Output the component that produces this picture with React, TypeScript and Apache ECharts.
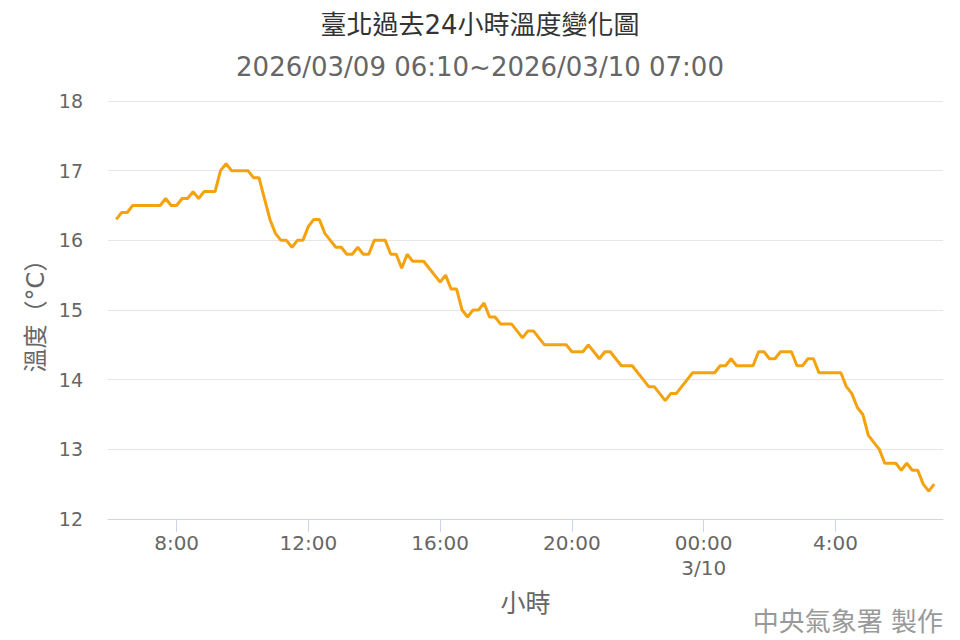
import React, { useEffect, useRef } from 'react';
import * as echarts from 'echarts';

// 10 分鐘一筆，從 2026/03/09 06:10 起（以第一天 00:00 起算的分鐘數）
const startMinute = 370;
const stepMinutes = 10;

const temperatures = [
  // 06:10 - 08:00
  16.3, 16.4, 16.4, 16.5, 16.5, 16.5, 16.5, 16.5, 16.5, 16.6, 16.5, 16.5,
  // 08:10 - 10:00
  16.6, 16.6, 16.7, 16.6, 16.7, 16.7, 16.7, 17.0, 17.1, 17.0, 17.0, 17.0,
  // 10:10 - 12:00
  17.0, 16.9, 16.9, 16.6, 16.3, 16.1, 16.0, 16.0, 15.9, 16.0, 16.0, 16.2,
  // 12:10 - 14:00
  16.3, 16.3, 16.1, 16.0, 15.9, 15.9, 15.8, 15.8, 15.9, 15.8, 15.8, 16.0,
  // 14:10 - 16:00
  16.0, 16.0, 15.8, 15.8, 15.6, 15.8, 15.7, 15.7, 15.7, 15.6, 15.5, 15.4,
  // 16:10 - 18:00
  15.5, 15.3, 15.3, 15.0, 14.9, 15.0, 15.0, 15.1, 14.9, 14.9, 14.8, 14.8,
  // 18:10 - 20:00
  14.8, 14.7, 14.6, 14.7, 14.7, 14.6, 14.5, 14.5, 14.5, 14.5, 14.5, 14.4,
  // 20:10 - 22:00
  14.4, 14.4, 14.5, 14.4, 14.3, 14.4, 14.4, 14.3, 14.2, 14.2, 14.2, 14.1,
  // 22:10 - 00:00
  14.0, 13.9, 13.9, 13.8, 13.7, 13.8, 13.8, 13.9, 14.0, 14.1, 14.1, 14.1,
  // 00:10 - 02:00
  14.1, 14.1, 14.2, 14.2, 14.3, 14.2, 14.2, 14.2, 14.2, 14.4, 14.4, 14.3,
  // 02:10 - 04:00
  14.3, 14.4, 14.4, 14.4, 14.2, 14.2, 14.3, 14.3, 14.1, 14.1, 14.1, 14.1,
  // 04:10 - 06:00
  14.1, 13.9, 13.8, 13.6, 13.5, 13.2, 13.1, 13.0, 12.8, 12.8, 12.8, 12.7,
  // 06:10 - 07:00
  12.8, 12.7, 12.7, 12.5, 12.4, 12.5,
];

const xTickValues = [480, 720, 960, 1200, 1440, 1680];
const xTickLabels = ['8:00', '12:00', '16:00', '20:00', '00:00\n3/10', '4:00'];

const titleText = '臺北過去24小時溫度變化圖';
const subtitleText = '2026/03/09 06:10~2026/03/10 07:00';
const creditText = '中央氣象署 製作';

const FONT = "'DejaVu Sans', 'Noto Sans CJK TC', sans-serif";

export default function App() {
  const chartRef = useRef<HTMLDivElement>(null);

  useEffect(() => {
    if (!chartRef.current) return;
    document.body.style.margin = '0';
    const chart = echarts.init(chartRef.current, null, { renderer: 'svg' });

    const seriesData = temperatures.map((v, i) => [startMinute + i * stepMinutes, v]);

    const option: echarts.EChartsOption = {
      animation: false,
      backgroundColor: '#ffffff',
      textStyle: { fontFamily: FONT },
      title: [
        {
          text: titleText,
          left: 'center',
          top: 7,
          textStyle: { fontFamily: FONT, fontSize: 26, fontWeight: 'normal', color: '#333333' },
        },
        {
          text: subtitleText,
          left: 'center',
          top: 49,
          textStyle: { fontFamily: FONT, fontSize: 26, fontWeight: 'normal', color: '#666666' },
        },
      ],
      grid: { left: 108, right: 17, top: 101, bottom: 121 },
      xAxis: {
        type: 'value',
        min: 355,
        max: 1876,
        name: '小時',
        nameLocation: 'middle',
        nameGap: 72,
        nameTextStyle: { fontFamily: FONT, fontSize: 25, color: '#666666' },
        axisLine: { show: true, lineStyle: { color: '#ccd6eb', width: 1 } },
        axisTick: {
          show: true,
          length: 13,
          customValues: xTickValues,
          lineStyle: { color: '#ccd6eb', width: 1 },
        },
        axisLabel: {
          customValues: xTickValues,
          margin: 11,
          fontSize: 20,
          lineHeight: 25,
          color: '#666666',
          fontFamily: FONT,
          formatter: (v: number) => xTickLabels[xTickValues.indexOf(v)] ?? '',
        },
        splitLine: { show: false },
      },
      yAxis: {
        type: 'value',
        min: 12,
        max: 18,
        interval: 1,
        name: '溫度（°C）',
        nameLocation: 'middle',
        nameGap: 60,
        nameTextStyle: { fontFamily: FONT, fontSize: 24, color: '#666666' },
        axisLine: { show: false },
        axisTick: { show: false },
        axisLabel: { margin: 25, fontSize: 19, color: '#666666', fontFamily: FONT },
        splitLine: { lineStyle: { color: '#e6e6e6', width: 1 } },
      },
      series: [
        {
          type: 'line',
          data: seriesData,
          showSymbol: false,
          symbol: 'none',
          lineStyle: { color: '#f5a20f', width: 3 },
          itemStyle: { color: '#f5a20f' },
        },
      ],
      graphic: [
        {
          type: 'text',
          right: 17,
          top: 609,
          style: {
            text: creditText,
            fill: '#999999',
            font: `26px ${FONT}`,
          },
        },
      ],
    };

    chart.setOption(option);

    return () => {
      chart.dispose();
    };
  }, []);

  return <div ref={chartRef} style={{ width: 960, height: 640 }} />;
}
